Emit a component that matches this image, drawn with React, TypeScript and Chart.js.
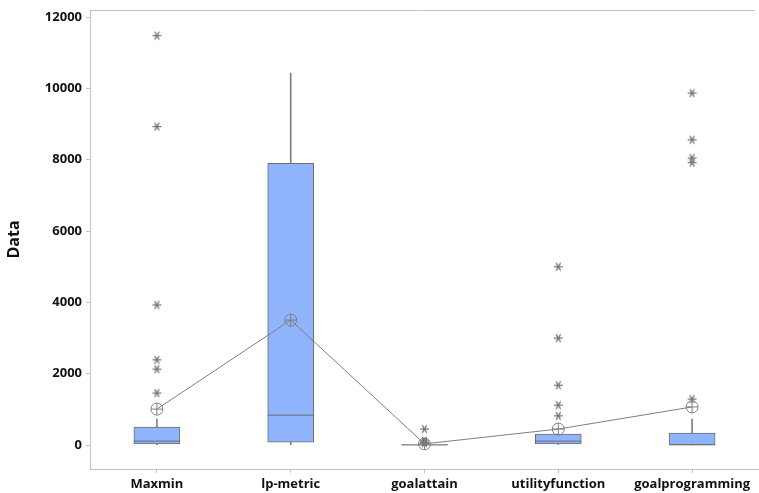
import React, { useEffect, useRef } from "react";
import { Chart, registerables } from "chart.js";

Chart.register(...registerables);

const categories = ["Maxmin", "lp-metric", "goalattain", "utilityfunction", "goalprogramming"];
const q1 = [30, 80, 0, 30, 5];
const q3 = [505, 7900, 15, 310, 335];
const medians = [110, 840, 5, 110, 10];
const whiskerHigh = [730, 10430, 15, 310, 730];
const whiskerLow = [0, 0, 0, 0, 0];
const means = [1010, 3505, 35, 450, 1070];
const outliers: number[][] = [
  [11480, 8930, 3930, 2390, 2130, 1460],
  [],
  [450, 120, 80, 60],
  [5000, 3000, 1680, 1120, 820],
  [9870, 8560, 8050, 7920, 1290],
];
const yTicks = [0, 2000, 4000, 6000, 8000, 10000, 12000];
const yMin = -670;
const yMax = 12200;

const GRAY = "#7f7f7f";
const AXIS = "#c3c3c3";
const FONT = "'Open Sans', 'Noto Sans', sans-serif";

function makeAsterisk(): HTMLCanvasElement {
  const c = document.createElement("canvas");
  c.width = 11;
  c.height = 11;
  const g = c.getContext("2d")!;
  g.strokeStyle = "#707070";
  g.lineWidth = 1.2;
  const r = 4.5;
  [0, 60, 120].forEach((deg) => {
    const a = (deg * Math.PI) / 180;
    g.beginPath();
    g.moveTo(5.5 - r * Math.cos(a), 5.5 - r * Math.sin(a));
    g.lineTo(5.5 + r * Math.cos(a), 5.5 + r * Math.sin(a));
    g.stroke();
  });
  return c;
}

export default function App() {
  const ref = useRef<HTMLCanvasElement | null>(null);
  useEffect(() => {
    document.body.style.margin = "0";
    const ctx = ref.current!.getContext("2d")!;
    const outlierPts: { x: string; y: number }[] = [];
    outliers.forEach((arr, i) => arr.forEach((v) => outlierPts.push({ x: categories[i], y: v })));
    const asterisk = makeAsterisk();

    const framePlugin = {
      id: "frame",
      beforeDatasetsDraw(chart: any) {
        const { ctx: c, chartArea } = chart;
        c.save();
        c.strokeStyle = AXIS;
        c.lineWidth = 1;
        c.beginPath();
        c.moveTo(chartArea.left, chartArea.top + 0.5);
        c.lineTo(chartArea.right - 4, chartArea.top + 0.5);
        c.stroke();
        c.restore();
      },
    };

    const chart = new Chart(ctx, {
      type: "bar",
      data: {
        labels: categories,
        datasets: [
          {
            type: "line",
            label: "mean",
            data: means,
            borderColor: GRAY,
            borderWidth: 1,
            pointStyle: "circle",
            pointRadius: 6,
            pointBorderColor: GRAY,
            pointBorderWidth: 1,
            pointBackgroundColor: "rgba(0,0,0,0)",
            order: 0,
          } as any,
          {
            type: "line",
            label: "meanCross",
            data: means,
            showLine: false,
            pointStyle: "cross",
            pointRadius: 6,
            pointBorderColor: GRAY,
            pointBorderWidth: 1,
            order: 0,
          } as any,
          {
            type: "line",
            label: "median",
            data: medians,
            showLine: false,
            pointStyle: "line",
            pointRadius: 23,
            pointBorderColor: "#6a6a6a",
            pointBorderWidth: 1,
            order: 1,
          } as any,
          {
            type: "line",
            label: "outliers",
            data: outlierPts,
            showLine: false,
            pointStyle: asterisk,
            pointRadius: 4,
            order: 2,
          } as any,
          {
            type: "bar",
            label: "box",
            data: categories.map((_, i) => [q1[i], q3[i]]),
            backgroundColor: "#8fb4fb",
            borderColor: "#6e6e6e",
            borderWidth: 1,
            borderSkipped: false,
            barThickness: 46,
            grouped: false,
            order: 3,
          } as any,
          {
            type: "bar",
            label: "whiskerHigh",
            data: categories.map((_, i) => [q3[i], whiskerHigh[i]]),
            backgroundColor: GRAY,
            borderWidth: 0,
            barThickness: 1,
            grouped: false,
            order: 4,
          } as any,
          {
            type: "bar",
            label: "whiskerLow",
            data: categories.map((_, i) => [whiskerLow[i], q1[i]]),
            backgroundColor: GRAY,
            borderWidth: 0,
            barThickness: 1,
            grouped: false,
            order: 4,
          } as any,
        ],
      },
      options: {
        animation: false,
        responsive: false,
        events: [],
        layout: { autoPadding: false, padding: { top: 10, right: 0, left: 0, bottom: 0 } },
        plugins: { legend: { display: false }, tooltip: { enabled: false } },
        scales: {
          x: {
            type: "category",
            offset: true,
            grid: { drawOnChartArea: false, color: AXIS, tickLength: 4, offset: false },
            border: { color: AXIS },
            ticks: { color: "#111", font: { family: FONT, size: 13, weight: "bold" }, padding: 3, maxRotation: 0, autoSkip: false },
            afterFit: (s: any) => {
              s.height = 24;
              s.paddingLeft = 0;
              s.paddingRight = 0;
            },
          },
          y: {
            type: "linear",
            min: yMin,
            max: yMax,
            afterBuildTicks: (s: any) => {
              s.ticks = yTicks.map((v) => ({ value: v }));
            },
            grid: { drawOnChartArea: false, color: AXIS, tickLength: 4 },
            border: { color: AXIS },
            ticks: {
              color: "#111",
              font: { family: FONT, size: 13, weight: "bold" },
              padding: 4,
              callback: (v: any) => String(v),
            },
            title: {
              display: true,
              text: "Data",
              color: "#111",
              font: { family: FONT, size: 16, weight: "bold" },
              padding: { top: 5, bottom: 0 },
            },
            afterFit: (s: any) => {
              s.width = 90;
              s.paddingTop = 0;
              s.paddingBottom = 0;
            },
          },
        },
      } as any,
      plugins: [framePlugin],
    });
    return () => chart.destroy();
  }, []);
  return (
    <div style={{ width: 759, height: 493 }}>
      <canvas ref={ref} width={759} height={493} style={{ display: "block" }} />
    </div>
  );
}
